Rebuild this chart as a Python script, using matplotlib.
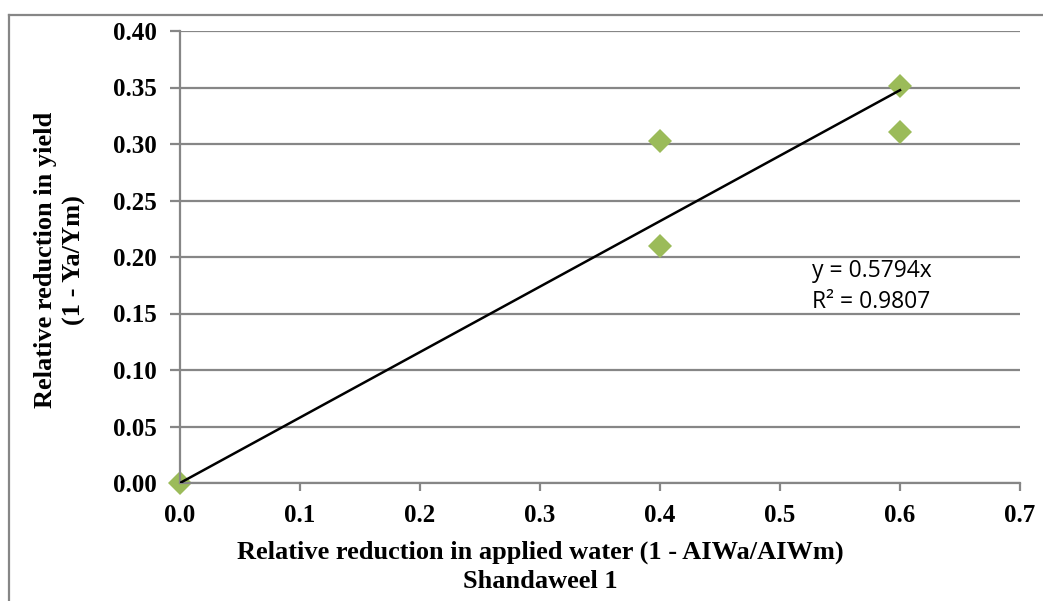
import matplotlib
matplotlib.use("Agg")
import matplotlib.pyplot as plt
from matplotlib.lines import Line2D

# data
water_red = [0.0, 0.4, 0.4, 0.6, 0.6]
yield_red = [0.0, 0.303, 0.210, 0.351, 0.311]
slope = 0.5794
r2 = 0.9807
x_ticks = [0.0, 0.1, 0.2, 0.3, 0.4, 0.5, 0.6, 0.7]
y_ticks = [0.00, 0.05, 0.10, 0.15, 0.20, 0.25, 0.30, 0.35, 0.40]

grid_col = "#868686"
serif = "Liberation Serif"

fig = plt.figure(figsize=(10.43, 6.01), dpi=100)
ax = fig.add_axes([180 / 1043, 1 - 483 / 601, 840 / 1043, 452 / 601])

ax.set_xlim(0, 0.7)
ax.set_ylim(0, 0.4)
ax.set_xticks(x_ticks)
ax.set_yticks(y_ticks)
ax.set_xticklabels(["%.1f" % v for v in x_ticks])
ax.set_yticklabels(["%.2f" % v for v in y_ticks])
for lab in ax.get_xticklabels() + ax.get_yticklabels():
    lab.set_fontfamily(serif)
    lab.set_fontweight("bold")
    lab.set_fontsize(18)

ax.yaxis.grid(True, color=grid_col, linewidth=1.6)
ax.set_axisbelow(True)
for s in ["top", "right"]:
    ax.spines[s].set_visible(False)
for s in ["left", "bottom"]:
    ax.spines[s].set_color(grid_col)
    ax.spines[s].set_linewidth(1.6)
ax.tick_params(axis="y", length=7, width=1.6, color=grid_col, pad=10)
ax.tick_params(axis="x", length=6, width=1.6, color=grid_col, pad=9)

# trendline through origin
xs = [0.0, max(water_red)]
ax.plot(xs, [slope * v for v in xs], color="black", linewidth=1.8, zorder=3)
ax.plot(water_red, yield_red, linestyle="none", marker="D", markersize=12,
        color="#9BBB59", markeredgewidth=0, zorder=2, clip_on=False)

ax.text(0.527, 0.1876, "y = %.4fx" % slope, fontsize=16.5, family="Open Sans",
        va="center", ha="left")
ax.text(0.527, 0.160, "R² = %.4f" % r2, fontsize=16.5, family="Open Sans",
        va="center", ha="left")

fig.text(540 / 1043, 1 - 552 / 601, "Relative reduction in applied water (1 - AIWa/AIWm)",
         family=serif, weight="bold", fontsize=19, ha="center", va="center")
fig.text(540 / 1043, 1 - 581 / 601, "Shandaweel 1",
         family=serif, weight="bold", fontsize=19, ha="center", va="center")
fig.text(60 / 1043, 1 - 260 / 601, "Relative reduction in yield\n(1 - Ya/Ym)",
         family=serif, weight="bold", fontsize=19, ha="center", va="center",
         rotation=90, linespacing=1.3)

# outer border (top and left visible)
fig.add_artist(Line2D([9 / 1043, 9 / 1043], [0, 1 - 15 / 601], transform=fig.transFigure,
                      color=grid_col, linewidth=1.6))
fig.add_artist(Line2D([9 / 1043, 1], [1 - 15 / 601, 1 - 15 / 601], transform=fig.transFigure,
                      color=grid_col, linewidth=1.6))

fig.savefig("out.png", dpi=100)
